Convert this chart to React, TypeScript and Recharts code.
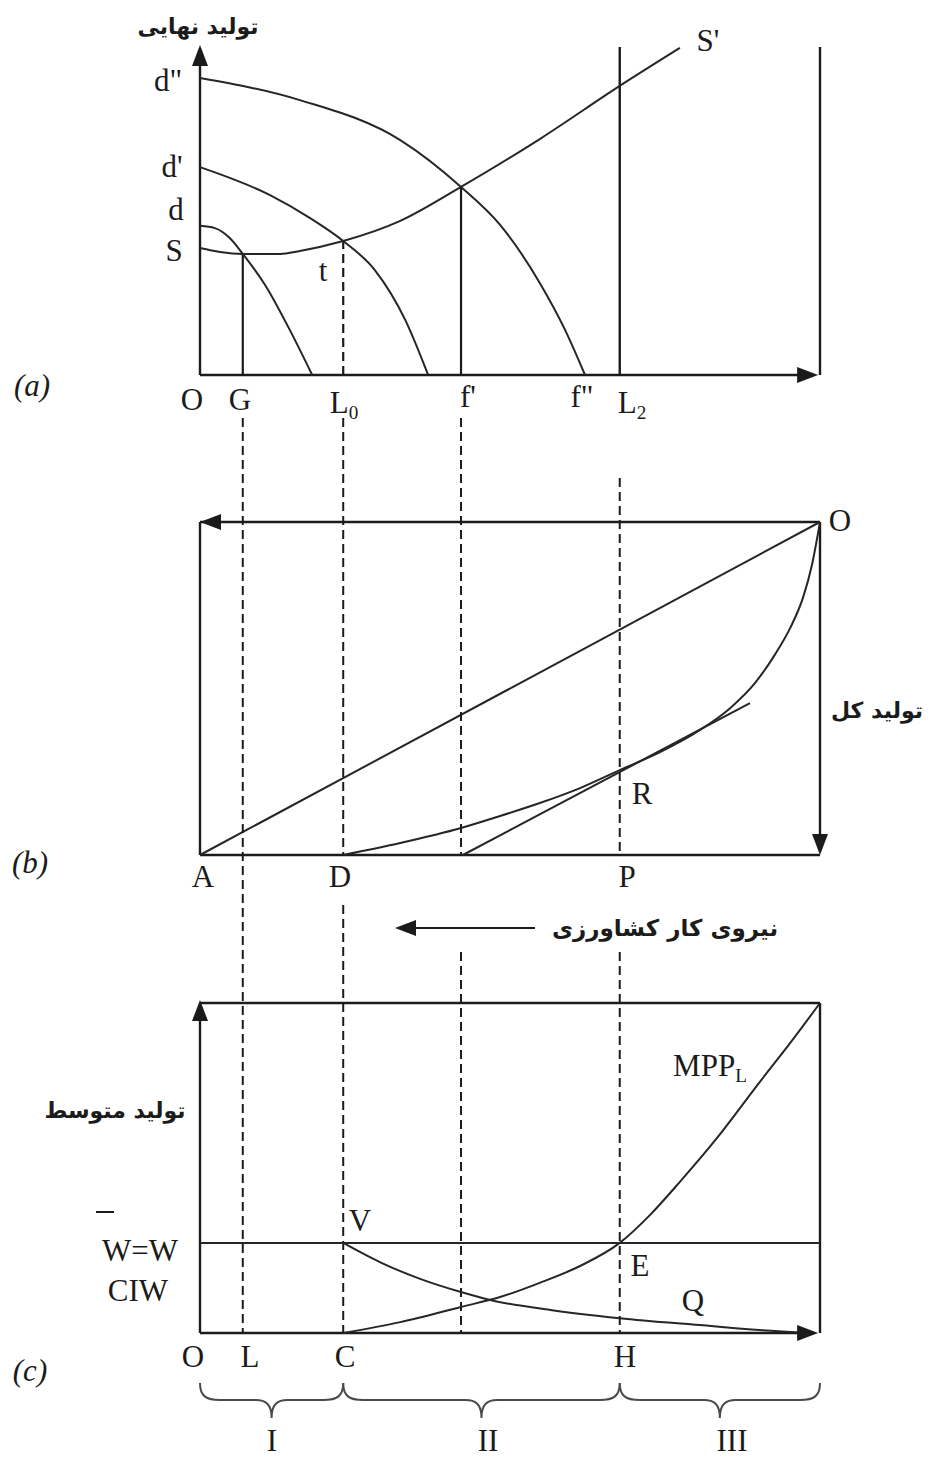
import React from 'react';
import { ComposedChart, Line, XAxis, YAxis, ReferenceLine, ReferenceDot } from 'recharts';

const PAGE_W = 931;
const PAGE_H = 1457;
const LEFT = 200;
const RIGHT = 820;

type Band = { top: number; bottom: number };
const BAND_A: Band = { top: 45, bottom: 375 };
const BAND_B: Band = { top: 522, bottom: 855 };
const BAND_C: Band = { top: 1003, bottom: 1333 };

const INK = '#1b1b1b';
const CURVE_INK = '#262626';
const SERIF = '"Liberation Serif", "Times New Roman", serif';
const PERSIAN = '"DejaVu Sans", "Noto Sans", sans-serif';

// labour positions shared by the three panels (0 = origin, 100 = right edge)
const LABOR_G = 6.9;
const LABOR_L0 = 23.1;
const LABOR_F = 42.1;
const LABOR_L2 = 67.7;

// (a) marginal product curves d, d', d'' and the labour supply curve S–S'
const dLabor = [0, 2.4, 4.8, 6.9, 10.5, 14.5, 18.1];
const dValue = [45.2, 44.5, 41.5, 36.7, 27.3, 13.6, 0];
const d1Labor = [0, 11.3, 17.7, 23.1, 28.2, 33.1, 36.8];
const d1Value = [63, 54.5, 47.6, 40.6, 31.8, 16.7, 0];
const d2Labor = [0, 16.1, 32.3, 42.1, 48.4, 54.8, 58.9, 62.1];
const d2Value = [90, 83.3, 71.2, 57, 45.5, 27.9, 13.6, 0];
const supplyLabor = [0, 3.2, 6.9, 12.9, 16.1, 23.1, 32.3, 42.1, 54.8, 67.7, 77.4];
const supplyValue = [38.5, 37.3, 36.7, 36.7, 37.6, 40.6, 46.7, 57, 71.5, 87.6, 99.1];

// (b) total product curve, the ray A–O and the tangent through R
const tppLabor = [23.1, 32.3, 42.1, 48.4, 54.8, 61.3, 67.7, 74.2, 80.6, 85.5, 89.5, 92.7, 95.2, 97.3, 98.7, 100];
const tppValue = [0, 3.6, 8.1, 11.7, 15.6, 20.1, 25.5, 30.9, 37.5, 44.1, 51.6, 60.1, 68.2, 77.5, 87.1, 100];
const rayLabor = [0, 100];
const rayValue = [0, 100];
const tangentLabor = [42.4, 88.7];
const tangentValue = [0, 45.6];

// (c) marginal product MPP_L, the falling curve V–Q and the wage line
const mppLabor = [23.1, 32.3, 42.1, 48.4, 54.8, 61.3, 67.7, 72.6, 77.4, 83.4, 90.3, 95.2, 100];
const mppValue = [0, 3.3, 7.9, 10.9, 15.2, 20.3, 27.3, 35.8, 45.8, 59.1, 76.1, 87.9, 100];
const avgLabor = [23.1, 29, 35.5, 42.1, 46.8, 56.5, 67.7, 80.6, 90.3, 98.4];
const avgValue = [27.3, 21.5, 16.4, 12.4, 10, 7, 4.5, 2.4, 0.9, 0];
const wageLabor = [0, 100];
const wageValue = [27.3, 27.3];

const pts = (xs: number[], ys: number[]) => xs.map((x, i) => ({ x, y: ys[i] }));
// page row / column -> panel units (used for the frame and guide decorations)
const rowIn = (band: Band, row: number) => ((band.bottom - row) / (band.bottom - band.top)) * 100;
const colX = (px: number) => ((px - LEFT) / (RIGHT - LEFT)) * 100;

const arrowHead = (dir: 'up' | 'down' | 'left' | 'right') => (p: any) => {
  const { cx, cy } = p;
  const len = 21;
  const half = 8;
  let d = '';
  if (dir === 'up') d = `M${cx},${cy} L${cx - half},${cy + len} L${cx + half},${cy + len} Z`;
  if (dir === 'down') d = `M${cx},${cy} L${cx - half},${cy - len} L${cx + half},${cy - len} Z`;
  if (dir === 'left') d = `M${cx},${cy} L${cx + len},${cy - half} L${cx + len},${cy + half} Z`;
  if (dir === 'right') d = `M${cx},${cy} L${cx - len},${cy - half} L${cx - len},${cy + half} Z`;
  return <path d={d} fill={INK} />;
};

const brace = (p: any) => {
  const { x1, x2, y1 } = p;
  const m = (x1 + x2) / 2;
  const y = y1;
  const d = `M${x1},${y - 17} C${x1},${y - 4} ${x1 + 6},${y} ${x1 + 20},${y} L${m - 16},${y} C${m - 6},${y} ${m},${y + 4} ${m},${y + 18} C${m},${y + 4} ${m + 6},${y} ${m + 16},${y} L${x2 - 20},${y} C${x2 - 6},${y} ${x2},${y - 4} ${x2},${y - 17}`;
  return <path d={d} fill="none" stroke="#4a4a4a" strokeWidth={2} />;
};

const seg = (key: string, x1: number, y1: number, x2: number, y2: number, dashed = false, width = 2.4) => (
  <ReferenceLine
    key={key}
    segment={[{ x: x1, y: y1 }, { x: x2, y: y2 }]}
    stroke={INK}
    strokeWidth={width}
    strokeDasharray={dashed ? '9 5' : undefined}
    ifOverflow="visible"
  />
);

const head = (key: string, x: number, y: number, dir: 'up' | 'down' | 'left' | 'right') => (
  <ReferenceDot key={key} x={x} y={y} r={1} ifOverflow="visible" shape={arrowHead(dir)} />
);

const curve = (key: string, xs: number[], ys: number[], type: 'monotone' | 'linear' = 'monotone') => (
  <Line
    key={key}
    data={pts(xs, ys)}
    dataKey="y"
    type={type}
    stroke={CURVE_INK}
    strokeWidth={2}
    dot={false}
    activeDot={false}
    isAnimationActive={false}
  />
);

// dashed guides that run from panel (a) down through (b) into (c), in page rows
const GUIDE_RUNS: { x: number; runs: [number, number][] }[] = [
  { x: LABOR_G, runs: [[418, 1333]] },
  { x: LABOR_L0, runs: [[418, 855], [905, 1333]] },
  { x: LABOR_F, runs: [[418, 855], [952, 1333]] },
  { x: LABOR_L2, runs: [[478, 855], [952, 1333]] },
];

function Panel({ band, children }: { band: Band; children: React.ReactNode }) {
  return (
    <div style={{ position: 'absolute', left: 0, top: 0 }}>
      <ComposedChart
        width={PAGE_W}
        height={PAGE_H}
        margin={{ top: band.top, bottom: PAGE_H - band.bottom, left: LEFT, right: PAGE_W - RIGHT }}
      >
        <XAxis type="number" dataKey="x" domain={[0, 100]} hide />
        <YAxis type="number" domain={[0, 100]} hide />
        {children}
      </ComposedChart>
    </div>
  );
}

function Label({ x, y, children, size = 31, italic = false, persian = false }: any) {
  return (
    <div
      dir={persian ? 'rtl' : undefined}
      style={{
        position: 'absolute',
        left: x,
        top: y,
        transform: 'translate(-50%, -50%)',
        fontFamily: persian ? PERSIAN : SERIF,
        fontWeight: persian ? 700 : 400,
        fontStyle: italic ? 'italic' : 'normal',
        fontSize: size,
        lineHeight: 1,
        whiteSpace: 'nowrap',
        color: INK,
      }}
    >
      {children}
    </div>
  );
}

const Sub = ({ children }: { children: React.ReactNode }) => (
  <span style={{ fontSize: '0.62em', position: 'relative', top: '0.32em' }}>{children}</span>
);

export default function App() {
  const sAtG = supplyValue[2];
  const sAtL0 = supplyValue[5];
  const sAtF = supplyValue[7];

  return (
    <div style={{ position: 'absolute', left: 0, top: 0, width: PAGE_W, height: PAGE_H, background: '#fff', overflow: 'hidden' }}>
      {/* (a) marginal product and supply of labour */}
      <Panel band={BAND_A}>
        {[
          seg('ya', 0, 0, 0, 99),
          head('yah', 0, 100, 'up'),
          seg('xa', 0, 0, 99, 0),
          head('xah', 99.7, 0, 'right'),
          seg('ra', 100, 0, 100, 99.4),
          seg('l2', LABOR_L2, 0, LABOR_L2, 99.4),
          seg('g', LABOR_G, 0, LABOR_G, sAtG, false, 2.2),
          seg('l0', LABOR_L0, 0, LABOR_L0, sAtL0, true, 2.2),
          seg('f', LABOR_F, 0, LABOR_F, sAtF, false, 2.2),
          curve('d', dLabor, dValue),
          curve('d1', d1Labor, d1Value),
          curve('d2', d2Labor, d2Value),
          curve('s', supplyLabor, supplyValue),
        ]}
      </Panel>

      {/* (b) total product, drawn from the corner O */}
      <Panel band={BAND_B}>
        {[
          seg('top', 0, 100, 100, 100),
          head('toph', 0, 100, 'left'),
          seg('lb', 0, 0, 0, 100),
          seg('bb', 0, 0, 100, 0),
          seg('rb', 100, 100, 100, 1),
          head('rbh', 100, 0, 'down'),
          curve('ray', rayLabor, rayValue, 'linear'),
          curve('tan', tangentLabor, tangentValue, 'linear'),
          curve('tpp', tppLabor, tppValue),
          ...GUIDE_RUNS.flatMap((g, i) =>
            g.runs.map((r, j) => seg(`gd${i}-${j}`, g.x, rowIn(BAND_B, r[0]), g.x, rowIn(BAND_B, r[1]), true, 2)),
          ),
          seg('mid', colX(410), rowIn(BAND_B, 928), colX(535), rowIn(BAND_B, 928), false, 2),
          head('midh', colX(395), rowIn(BAND_B, 928), 'left'),
        ]}
      </Panel>

      {/* (c) marginal and average product against the wage */}
      <Panel band={BAND_C}>
        {[
          seg('yc', 0, 0, 0, 99),
          head('ych', 0, rowIn(BAND_C, 1000), 'up'),
          seg('tc', 0, 100, 100, 100),
          seg('rc', 100, 0, 100, 100),
          seg('xc', 0, 0, 99, 0),
          head('xch', 99.7, 0, 'right'),
          curve('wage', wageLabor, wageValue, 'linear'),
          curve('mpp', mppLabor, mppValue),
          curve('avg', avgLabor, avgValue),
          <ReferenceLine key="b1" segment={[{ x: 0, y: rowIn(BAND_C, 1400) }, { x: LABOR_L0, y: rowIn(BAND_C, 1400) }]} ifOverflow="visible" shape={brace} />,
          <ReferenceLine key="b2" segment={[{ x: LABOR_L0, y: rowIn(BAND_C, 1400) }, { x: LABOR_L2, y: rowIn(BAND_C, 1400) }]} ifOverflow="visible" shape={brace} />,
          <ReferenceLine key="b3" segment={[{ x: LABOR_L2, y: rowIn(BAND_C, 1400) }, { x: 100, y: rowIn(BAND_C, 1400) }]} ifOverflow="visible" shape={brace} />,
        ]}
      </Panel>

      {/* panel (a) labels */}
      <Label x={198} y={27} size={22} persian>تولید نهایی</Label>
      <Label x={168} y={80}>d"</Label>
      <Label x={172} y={166}>d'</Label>
      <Label x={176} y={209}>d</Label>
      <Label x={174} y={250}>S</Label>
      <Label x={323} y={270}>t</Label>
      <Label x={708} y={40}>S'</Label>
      <Label x={32} y={385} italic>(a)</Label>
      <Label x={192} y={399}>O</Label>
      <Label x={240} y={399}>G</Label>
      <Label x={344} y={402}>L<Sub>0</Sub></Label>
      <Label x={468} y={396}>f'</Label>
      <Label x={582} y={396}>f"</Label>
      <Label x={632} y={402}>L<Sub>2</Sub></Label>

      {/* panel (b) labels */}
      <Label x={840} y={520}>O</Label>
      <Label x={877} y={711} size={22} persian>تولید کل</Label>
      <Label x={642} y={793}>R</Label>
      <Label x={30} y={862} italic>(b)</Label>
      <Label x={203} y={876}>A</Label>
      <Label x={340} y={876}>D</Label>
      <Label x={627} y={876}>P</Label>
      <Label x={665} y={928} size={23} persian>نیروی کار کشاورزی</Label>

      {/* panel (c) labels */}
      <Label x={115} y={1111} size={22} persian>تولید متوسط</Label>
      <Label x={710} y={1065}>MPP<Sub>L</Sub></Label>
      <Label x={360} y={1220}>V</Label>
      <div style={{ position: 'absolute', left: 96, top: 1211, width: 18, height: 2, background: INK }} />
      <Label x={140} y={1250}>W=W</Label>
      <Label x={640} y={1265}>E</Label>
      <Label x={138} y={1290}>CIW</Label>
      <Label x={693} y={1300}>Q</Label>
      <Label x={30} y={1370} italic>(c)</Label>
      <Label x={193} y={1356}>O</Label>
      <Label x={250} y={1356}>L</Label>
      <Label x={345} y={1356}>C</Label>
      <Label x={625} y={1356}>H</Label>
      <Label x={272} y={1440}>I</Label>
      <Label x={488} y={1440}>II</Label>
      <Label x={732} y={1440}>III</Label>
    </div>
  );
}
